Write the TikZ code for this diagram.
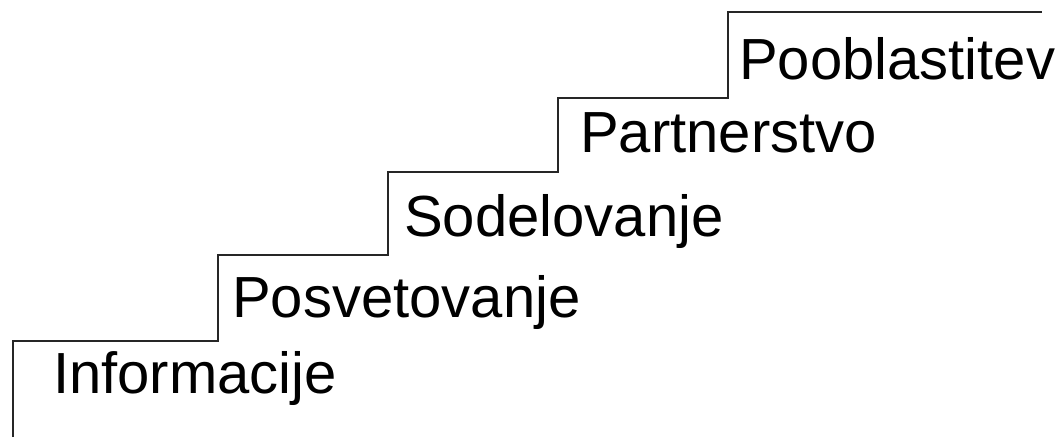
\documentclass[tikz,border=0pt]{standalone}
\usepackage{fontspec}
\setmainfont{Liberation Sans}
\begin{document}
\begin{tikzpicture}[x=1pt,y=-1pt,
  lbl/.style={anchor=base west,inner sep=0pt,font=\fontsize{58}{61}\selectfont,text=black},
  stair/.style={draw=black!85,line width=2pt,line join=miter}]
\useasboundingbox (0,0) rectangle (1062,439);
\coordinate (s0) at (13,437);
\coordinate (c1) at (13,341);
\coordinate (c2) at (218,341);
\coordinate (c3) at (218,255);
\coordinate (c4) at (388,255);
\coordinate (c5) at (388,172);
\coordinate (c6) at (558,172);
\coordinate (c7) at (558,98);
\coordinate (c8) at (728,98);
\coordinate (c9) at (728,12);
\coordinate (e) at (1042,12);
\draw[stair] (s0) -- (c1) -- (c2) -- (c3) -- (c4) -- (c5) -- (c6) -- (c7) -- (c8) -- (c9) -- (e);
\node[lbl] (t1) at (53,393) {Informacije};
\node[lbl] (t2) at (232,317) {Posvetovanje};
\node[lbl] (t3) at (404,236) {Sodelovanje};
\node[lbl] (t4) at (580,152) {Partnerstvo};
\node[lbl] (t5) at (739,79) {Pooblastitev};
\end{tikzpicture}
\end{document}
